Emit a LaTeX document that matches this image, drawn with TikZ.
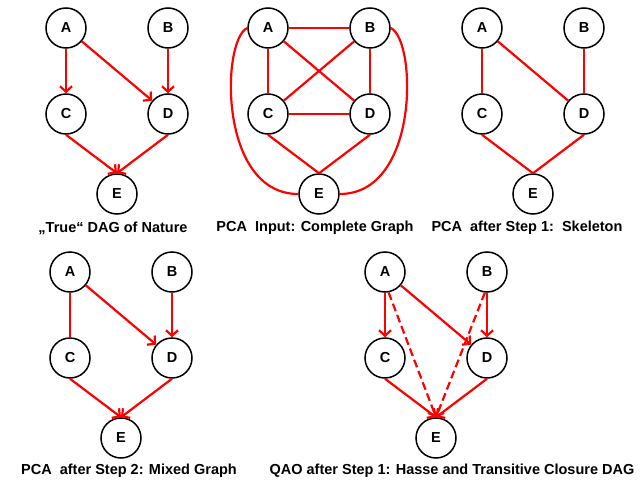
\documentclass[tikz,border=0pt]{standalone}
\usepackage{fontspec}
\setmainfont{Liberation Sans}
\usetikzlibrary{arrows.meta}

% the five variables of one panel
\newcommand{\dagnodes}[1]{%
  \node[var] (#1A) at (0,0) {A};
  \node[var] (#1B) at (102,0) {B};
  \node[var] (#1C) at (0,86) {C};
  \node[var] (#1D) at (102,86) {D};
  \node[var] (#1E) at (51,166) {E};
}

\begin{document}
\begin{tikzpicture}[x=1pt,y=-1pt,
    var/.style={circle,draw,fill=white,line width=1.5pt,minimum size=40pt,inner sep=0pt,
      font=\fontsize{14.5}{16}\selectfont\bfseries},
    edge/.style={red,line width=2.2pt},
    arr/.style={edge,-{Straight Barb[length=5.5pt,width=12pt]}},
    caption/.style={font=\fontsize{14.5}{16}\selectfont\bfseries,inner sep=0pt}]
\useasboundingbox (0,0) rectangle (641,482);
% true DAG
\begin{scope}[shift={(66,28)}]
  \dagnodes{t}
  \draw[arr] (tA.south) -- (tC.north);
  \draw[arr] (tA) -- (tD);
  \draw[arr] (tB.south) -- (tD.north);
  \draw[arr] (tC.south) -- (tE.north);
  \draw[arr] (tD.south) -- (tE.north);
  \node[caption] (tcap) at (47,200) {„True“ DAG of Nature};
\end{scope}
% complete graph
\begin{scope}[shift={(268,28)}]
  \dagnodes{k}
  \draw[edge] (kA) -- (kB);
  \draw[edge] (kA) -- (kC);
  \draw[edge] (kA) -- (kD);
  \draw[edge] (kB) -- (kC);
  \draw[edge] (kB) -- (kD);
  \draw[edge] (kC) -- (kD);
  \draw[edge] (kC.south) -- (kE.north);
  \draw[edge] (kD.south) -- (kE.north);
  \draw[edge] (kA.west) .. controls +(-26,12) and +(-80,0) .. (kE.west);
  \draw[edge] (kB.east) .. controls +(26,12) and +(80,0) .. (kE.east);
  \node[caption] (kcap) at (47,200) {PCA\ \ Input: Complete Graph};
\end{scope}
% skeleton
\begin{scope}[shift={(482,28)}]
  \dagnodes{s}
  \draw[edge] (sA) -- (sC);
  \draw[edge] (sA) -- (sD);
  \draw[edge] (sB) -- (sD);
  \draw[edge] (sC.south) -- (sE.north);
  \draw[edge] (sD.south) -- (sE.north);
  \node[caption] (scap) at (45,200) {PCA\ \ after Step 1:\ \ Skeleton};
\end{scope}
% mixed graph
\begin{scope}[shift={(70,272)}]
  \dagnodes{m}
  \draw[edge] (mA) -- (mC);
  \draw[arr] (mA) -- (mD);
  \draw[arr] (mB.south) -- (mD.north);
  \draw[arr] (mC.south) -- (mE.north);
  \draw[arr] (mD.south) -- (mE.north);
  \node[caption] (mcap) at (59,199) {PCA\ \ after Step 2: Mixed Graph};
\end{scope}
% QAO
\begin{scope}[shift={(385,272)}]
  \dagnodes{q}
  \draw[arr] (qA.south) -- (qC.north);
  \draw[arr] (qA) -- (qD);
  \draw[arr] (qB.south) -- (qD.north);
  \draw[arr] (qC.south) -- (qE.north);
  \draw[arr] (qD.south) -- (qE.north);
  \draw[arr,dash pattern=on 8pt off 4pt] (qA.-80) -- (qE.north);
  \draw[arr,dash pattern=on 8pt off 4pt] (qB.-96) -- (qE.north);
  \node[caption] (qcap) at (67,199) {QAO after Step 1: Hasse and Transitive Closure DAG};
\end{scope}
\end{tikzpicture}
\end{document}
